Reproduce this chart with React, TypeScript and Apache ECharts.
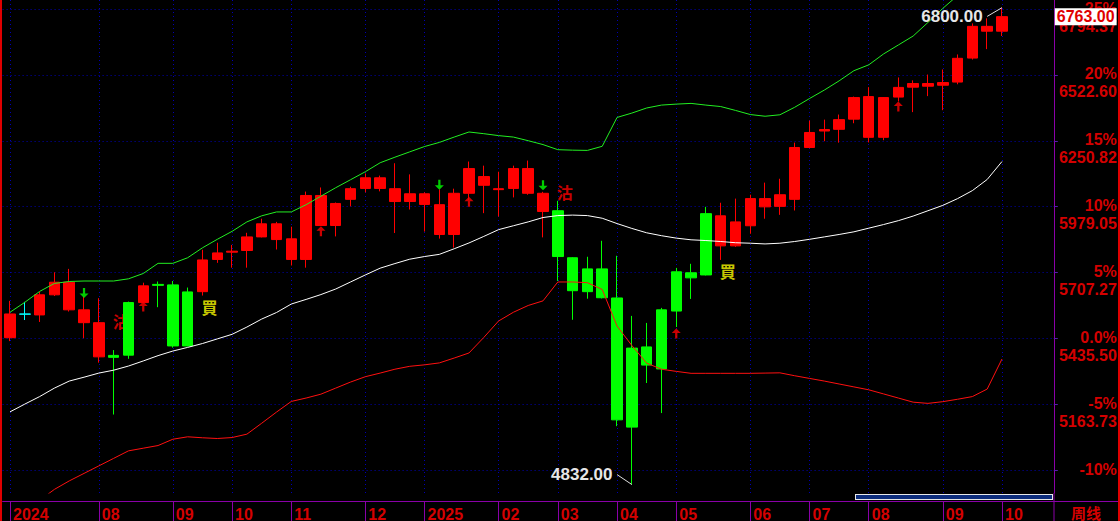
import React, { useEffect, useRef } from 'react';
import * as echarts from 'echarts';

// ---- Weekly OHLC (68 weeks, mid-2024 .. Oct 2025) ----
const opens = [5438, 5535, 5532, 5615, 5553, 5500, 5359, 5365, 5583, 5583, 5658, 5656, 5627, 5628, 5761, 5791, 5798, 5854, 5843, 5761, 5761, 5901, 5901, 6009, 6054, 6054, 6000, 6000, 5988, 5864, 5864, 6034, 6067, 6049, 6054, 6034, 5959, 5962, 5768, 5722, 5722, 5602, 5395, 5400, 5553, 5710, 5706, 5950, 5817, 5817, 5900, 5978, 5980, 6009, 6223, 6291, 6298, 6340, 6265, 6265, 6431, 6472, 6476, 6480, 6493, 6592, 6703, 6703];
const closes = [5536, 5536, 5615, 5667, 5667, 5553, 5500, 5357, 5366, 5652, 5654, 5404, 5404, 5759, 5788, 5795, 5854, 5908, 5908, 5846, 6025, 6025, 5992, 6053, 6098, 6098, 6053, 6032, 6032, 5987, 6034, 6136, 6103, 6053, 6136, 6136, 6034, 5773, 5632, 5628, 5603, 5099, 5069, 5325, 5309, 5548, 5685, 5697, 5941, 5916, 6012, 6012, 6028, 6223, 6285, 6297, 6338, 6429, 6433, 6429, 6471, 6487, 6487, 6491, 6591, 6723, 6723, 6763];
const lows = [5424, 5511, 5503, 5610, 5546, 5436, 5335, 5121, 5351, 5580, 5564, 5397, 5402, 5612, 5747, 5727, 5727, 5852, 5802, 5736, 5727, 5900, 5856, 5980, 6038, 6042, 5870, 5967, 5876, 5847, 5810, 6007, 5952, 5938, 6017, 6028, 5852, 5672, 5512, 5599, 5600, 5073, 4832, 5251, 5127, 5482, 5598, 5695, 5759, 5813, 5867, 5929, 5945, 5963, 6220, 6249, 6243, 6323, 6244, 6253, 6413, 6369, 6435, 6377, 6484, 6586, 6629, 6683];
const highs = [5590, 5586, 5627, 5708, 5722, 5608, 5601, 5387, 5587, 5665, 5670, 5672, 5645, 5801, 5830, 5821, 5871, 5929, 5916, 5896, 6041, 6058, 5996, 6061, 6116, 6107, 6158, 6112, 6038, 6050, 6053, 6165, 6148, 6123, 6148, 6169, 6040, 6003, 5770, 5772, 5838, 5776, 5528, 5499, 5561, 5726, 5743, 5978, 5995, 6012, 6028, 6078, 6094, 6243, 6334, 6338, 6359, 6433, 6472, 6431, 6512, 6500, 6524, 6545, 6607, 6735, 6756, 6800];
const flatWeekIndex = 1; // drawn in cyan

// ---- Bollinger bands ----
const bollUpper = [5543, 5584, 5629, 5662, 5670, 5672, 5672, 5672, 5681, 5703, 5745, 5745, 5768, 5809, 5844, 5877, 5916, 5941, 5957, 5957, 5987, 6022, 6057, 6090, 6123, 6160, 6183, 6205, 6227, 6244, 6266, 6287, 6280, 6272, 6266, 6251, 6235, 6214, 6212, 6211, 6228, 6347, 6365, 6386, 6398, 6402, 6405, 6398, 6392, 6376, 6359, 6352, 6358, 6389, 6425, 6460, 6498, 6540, 6564, 6609, 6646, 6683, 6739, 6797, 6850, 6900, 6940, 6975];
const bollMid = [5132, 5164, 5195, 5230, 5259, 5275, 5292, 5304, 5321, 5342, 5364, 5383, 5398, 5414, 5433, 5452, 5482, 5515, 5542, 5577, 5596, 5616, 5639, 5668, 5697, 5725, 5744, 5762, 5773, 5782, 5805, 5829, 5856, 5884, 5900, 5916, 5934, 5942, 5944, 5942, 5931, 5909, 5889, 5871, 5859, 5849, 5842, 5839, 5835, 5830, 5828, 5825, 5828, 5835, 5844, 5854, 5864, 5875, 5890, 5905, 5921, 5940, 5962, 5984, 6012, 6045, 6091, 6165];
const bollLower = [4692, 4730, 4767, 4812, 4847, 4878, 4909, 4940, 4971, 4982, 4993, 5019, 5029, 5025, 5022, 5026, 5040, 5085, 5131, 5175, 5189, 5205, 5230, 5255, 5277, 5292, 5308, 5320, 5326, 5334, 5354, 5375, 5439, 5507, 5543, 5571, 5590, 5668, 5668, 5665, 5637, 5486, 5406, 5333, 5308, 5299, 5291, 5291, 5291, 5291, 5291, 5292, 5293, 5281, 5270, 5259, 5247, 5235, 5223, 5206, 5189, 5172, 5167, 5174, 5184, 5195, 5226, 5350];

// ---- Signals ----
const upArrows = [[9, 5567], [21, 5877], [31, 5999], [45, 5455], [60, 6392]];
const downArrows = [[5, 5623], [29, 6069], [36, 6067]];
const sellSignals = [[7, 5507], [37, 6041]]; // 沽
const buySignals = [[13, 5565], [48, 5712]]; // 買

// ---- Axis ticks ----
const monthTickIndex = [0, 6, 11, 15, 19, 24, 28, 33, 37, 41, 45, 50, 54, 58, 63, 67];
const monthTickLabel = ['2024', '08', '09', '10', '11', '12', '2025', '02', '03', '04', '05', '06', '07', '08', '09', '10'];
const levelPrices = [6794.37, 6522.6, 6250.82, 5979.05, 5707.27, 5435.5, 5163.73, 4891.95];
const levelPercents = ['25%', '20%', '15%', '10%', '5%', '0.0%', '-5%', '-10%'];
const levelPriceLabels = ['6794.37', '6522.60', '6250.82', '5979.05', '5707.27', '5435.50', '5163.73', ''];

const lastPrice = 6763;
const periodHigh = { index: 67, value: 6800, labelAnchor: 6764 };
const periodLow = { index: 42, value: 4832, labelAnchor: 4873 };

const Y_MIN = 4797.1;
const Y_MAX = 6831.7;
const CATEGORY_COUNT = 71;

const RED_TXT = '#d40000';
const PURPLE = '#8a00a8';
const GRID_BLUE = '#0000b4';
const FONT = 'Liberation Sans, Arial, sans-serif';
const CJK = '"Noto Sans CJK TC", "Noto Sans CJK SC", sans-serif';

const UP_ARROW = 'path://M4 0 L8 4 L5 4 L5 9 L3 9 L3 4 L0 4 Z';
const DOWN_ARROW = 'path://M3 0 L5 0 L5 5 L8 5 L4 9 L0 5 L3 5 Z';

export default function App() {
  const ref = useRef<HTMLDivElement>(null);

  useEffect(() => {
    document.body.style.margin = '0';
    document.body.style.background = '#000';
    const chart = echarts.init(ref.current as HTMLDivElement, null, { renderer: 'svg' });

    const categories = Array.from({ length: CATEGORY_COUNT }, (_, i) => 'W' + i);
    const candleData = opens.map((o, i) => {
      const item: any = { value: [o, closes[i], lows[i], highs[i]] };
      if (i === flatWeekIndex) {
        item.itemStyle = { color: '#00ffff', color0: '#00ffff', borderColor: '#00ffff', borderColor0: '#00ffff' };
      }
      return item;
    });
    const isMonthTick = (i: number) => monthTickIndex.indexOf(i) >= 0;

    const option: any = {
      animation: false,
      backgroundColor: '#000000',
      textStyle: { fontFamily: FONT },
      grid: { left: 2.6, right: 66.2, top: 0, bottom: 28, containLabel: false, outerBoundsMode: 'none' },
      xAxis: {
        type: 'category',
        data: categories,
        boundaryGap: true,
        offset: 8,
        axisLine: { show: true, lineStyle: { color: PURPLE, width: 1 } },
        axisTick: {
          show: true,
          alignWithLabel: true,
          interval: (i: number) => isMonthTick(i),
          length: 20,
          lineStyle: { color: PURPLE, width: 1 },
        },
        axisLabel: {
          show: true,
          interval: (i: number) => isMonthTick(i),
          formatter: (_v: string, i: number) => {
            const k = monthTickIndex.indexOf(i);
            return k >= 0 ? monthTickLabel[k] : '';
          },
          color: RED_TXT,
          fontSize: 16,
          fontWeight: 'bold',
          fontFamily: FONT,
          align: 'left',
          margin: 5,
          padding: [0, 0, 0, 3],
        },
        splitLine: { show: false },
      },
      yAxis: {
        type: 'value',
        position: 'right',
        min: Y_MIN,
        max: Y_MAX,
        scale: true,
        axisLine: { show: true, lineStyle: { color: PURPLE, width: 1 } },
        axisTick: { show: true, customValues: levelPrices, length: 4, lineStyle: { color: '#5a1ab0' } },
        axisLabel: {
          show: true,
          customValues: levelPrices,
          align: 'right',
          margin: 63,
          formatter: (v: number) => {
            let k = -1;
            levelPrices.forEach((p, j) => {
              if (Math.abs(p - v) < 0.05) k = j;
            });
            if (k < 0) return '';
            const pv = levelPriceLabels[k] || ' ';
            return '{s| }\n{p|' + levelPercents[k] + '}\n{v|' + pv + '}';
          },
          rich: {
            s: { lineHeight: 16, fontSize: 2 },
            p: { lineHeight: 18, fontSize: 16, fontWeight: 'bold', color: RED_TXT, fontFamily: FONT },
            v: { lineHeight: 18, fontSize: 16, fontWeight: 'bold', color: RED_TXT, fontFamily: FONT },
          },
        },
        splitLine: { show: false },
      },
      series: [
        {
          name: 'K',
          type: 'candlestick',
          data: candleData,
          barWidth: 11,
          z: 2,
          itemStyle: {
            color: '#ff0000',
            color0: '#00ff00',
            borderColor: '#ff0000',
            borderColor0: '#00ff00',
            borderWidth: 1,
          },
          emphasis: { disabled: true },
          markLine: {
            silent: true,
            z: 1,
            symbol: ['none', 'none'],
            label: { show: false },
            lineStyle: { color: GRID_BLUE, type: [1, 3], width: 1 },
            emphasis: { disabled: true },
            data: [
              ...levelPrices.map((v) => ({ yAxis: v })),
              ...monthTickIndex.map((i) => ({ xAxis: i })),
            ],
          },
        },
        {
          name: 'UPPER',
          type: 'line',
          data: bollUpper,
          showSymbol: false,
          symbol: 'none',
          z: 3,
          lineStyle: { color: '#22ee22', width: 1 },
          itemStyle: { color: '#22ee22' },
        },
        {
          name: 'MID',
          type: 'line',
          data: bollMid,
          showSymbol: false,
          symbol: 'none',
          z: 3,
          lineStyle: { color: '#ffffff', width: 1 },
          itemStyle: { color: '#ffffff' },
          markLine: {
            silent: true,
            symbol: ['none', 'none'],
            lineStyle: { color: '#e0e0e0', width: 1, type: 'solid' },
            label: { show: false },
            emphasis: { disabled: true },
            data: [
              [{ coord: [periodHigh.index, periodHigh.value] }, { coord: [periodHigh.index - 1, periodHigh.labelAnchor] }],
              [{ coord: [periodLow.index, periodLow.value] }, { coord: [periodLow.index - 1, periodLow.labelAnchor] }],
              {
                yAxis: lastPrice,
                lineStyle: { color: 'rgba(0,0,0,0)', width: 1 },
                label: {
                  show: true,
                  position: 'end',
                  distance: 1,
                  formatter: lastPrice.toFixed(2),
                  color: '#e00000',
                  backgroundColor: '#ffffff',
                  fontSize: 16,
                  fontWeight: 'bold',
                  fontFamily: FONT,
                  padding: [1, 2, 0, 2],
                },
              },
            ],
          },
          markPoint: {
            silent: true,
            symbol: 'circle',
            symbolSize: 1,
            itemStyle: { color: 'rgba(0,0,0,0)' },
            label: {
              show: true,
              position: 'left',
              distance: 4,
              formatter: '{b}',
              color: '#e6e6e6',
              fontSize: 17,
              fontWeight: 'bold',
              fontFamily: FONT,
            },
            data: [
              { name: periodHigh.value.toFixed(2), coord: [periodHigh.index - 1, periodHigh.labelAnchor] },
              { name: periodLow.value.toFixed(2), coord: [periodLow.index - 1, periodLow.labelAnchor] },
            ],
          },
        },
        {
          name: 'LOWER',
          type: 'line',
          data: bollLower,
          showSymbol: false,
          symbol: 'none',
          z: 3,
          lineStyle: { color: '#ff1010', width: 1 },
          itemStyle: { color: '#ff1010' },
        },
        {
          name: 'upArrow',
          type: 'scatter',
          data: upArrows,
          symbol: UP_ARROW,
          symbolSize: [9, 10],
          z: 4,
          itemStyle: { color: '#ff0000' },
          silent: true,
        },
        {
          name: 'downArrow',
          type: 'scatter',
          data: downArrows,
          symbol: DOWN_ARROW,
          symbolSize: [9, 10],
          z: 4,
          itemStyle: { color: '#00ff00' },
          silent: true,
        },
        {
          name: 'sell',
          type: 'scatter',
          data: sellSignals,
          symbolSize: 1,
          z: 1,
          itemStyle: { color: 'rgba(0,0,0,0)' },
          silent: true,
          label: {
            show: true,
            position: 'inside',
            offset: [7, 0],
            formatter: '沽',
            color: '#ff0000',
            fontSize: 16,
            fontWeight: 'bold',
            fontFamily: CJK,
          },
        },
        {
          name: 'buy',
          type: 'scatter',
          data: buySignals,
          symbolSize: 1,
          z: 4,
          itemStyle: { color: 'rgba(0,0,0,0)' },
          silent: true,
          label: {
            show: true,
            position: 'inside',
            offset: [7, 0],
            formatter: '買',
            color: '#ffff00',
            fontSize: 16,
            fontWeight: 'bold',
            fontFamily: CJK,
          },
        },
      ],
      graphic: [
        { type: 'rect', shape: { x: 0, y: 0, width: 2, height: 521 }, style: { fill: '#e00000' }, silent: true },
        { type: 'rect', shape: { x: 1118, y: 0, width: 2, height: 521 }, style: { fill: '#e00000' }, silent: true },
        { type: 'line', shape: { x1: 1054, y1: 493, x2: 1054, y2: 521 }, style: { stroke: PURPLE, lineWidth: 1 }, silent: true },
        { type: 'line', shape: { x1: 1054, y1: 501.5, x2: 1118, y2: 501.5 }, style: { stroke: PURPLE, lineWidth: 1 }, silent: true },
        { type: 'rect', shape: { x: 855, y: 494, width: 198, height: 6 }, style: { fill: '#e8e8e8' }, silent: true },
        { type: 'rect', shape: { x: 856, y: 495, width: 196, height: 4 }, style: { fill: '#0c2c7c' }, silent: true },
        {
          type: 'text',
          x: 1086,
          y: 512,
          style: { text: '周线', fill: RED_TXT, font: 'bold 15px "Noto Sans CJK SC", sans-serif', textAlign: 'center', textVerticalAlign: 'middle' },
          silent: true,
        },
      ],
    };

    chart.setOption(option);
    return () => {
      chart.dispose();
    };
  }, []);

  return <div ref={ref} style={{ width: 1120, height: 521, background: '#000' }} />;
}
